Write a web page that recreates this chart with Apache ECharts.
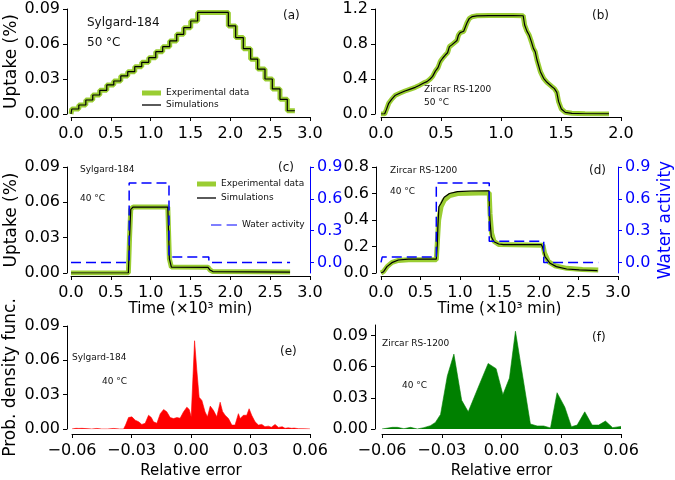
<!DOCTYPE html>
<html><head><meta charset="utf-8">
<script src="https://cdn.jsdelivr.net/npm/echarts@6/dist/echarts.min.js"></script>
<style>html,body{margin:0;padding:0;background:#fff}#c{width:675px;height:480px}</style>
</head><body><div id="c"></div>
<script>
// ---------- Data ----------
// (a) Sylgard-184, 50 °C: staircase (time ×10^3 min, uptake %)
const stepTimesA = [0, 0.01, 0.098, 0.186, 0.273, 0.361, 0.449, 0.537, 0.625, 0.712, 0.80, 0.888, 0.976, 1.064, 1.151, 1.239, 1.327, 1.415, 1.503, 1.59, 1.975, 2.067, 2.163, 2.255, 2.343, 2.435, 2.527, 2.623, 2.715, 2.81];
const uptakeA = [0, 0.0043, 0.0077, 0.0120, 0.0163, 0.0203, 0.0249, 0.0283, 0.0326, 0.0363, 0.0406, 0.0443, 0.0483, 0.0534, 0.0577, 0.0626, 0.0683, 0.0740, 0.0797, 0.0871, 0.0755, 0.0655, 0.0560, 0.0470, 0.0385, 0.0300, 0.0215, 0.0126, 0.0028, 0.0028];

// (b) Zircar RS-1200, 50 °C
const timeB = [0, 0.03, 0.045, 0.064, 0.09, 0.12, 0.16, 0.2, 0.245, 0.286, 0.313, 0.356, 0.383, 0.41, 0.43, 0.453, 0.475, 0.494, 0.515, 0.536, 0.555, 0.57, 0.59, 0.606, 0.633, 0.645, 0.66, 0.689, 0.70, 0.716, 0.735, 0.758, 0.80, 0.9, 1.0, 1.1, 1.185, 1.197, 1.215, 1.235, 1.253, 1.27, 1.285, 1.30, 1.328, 1.355, 1.383, 1.425, 1.445, 1.465, 1.48, 1.503, 1.536, 1.59, 1.7, 1.9];
const uptakeB = [0, 0, 0.05, 0.122, 0.17, 0.215, 0.24, 0.263, 0.285, 0.305, 0.322, 0.355, 0.37, 0.40, 0.43, 0.49, 0.53, 0.60, 0.64, 0.674, 0.70, 0.77, 0.79, 0.80, 0.84, 0.90, 0.93, 0.945, 0.96, 1.04, 1.09, 1.112, 1.122, 1.125, 1.125, 1.125, 1.123, 1.017, 0.95, 0.90, 0.827, 0.75, 0.712, 0.617, 0.484, 0.408, 0.362, 0.312, 0.29, 0.248, 0.141, 0.057, 0.019, 0.008, 0.003, 0.001];

// (c) Sylgard-184, 40 °C
const timeC = [0, 0.72, 0.735, 0.75, 0.78, 1.215, 1.235, 1.26, 1.72, 1.745, 1.78, 2.75];
const uptakeC = [0, 0, 0.03, 0.054, 0.056, 0.056, 0.012, 0.005, 0.0048, 0.0025, 0.0012, 0.0008];
const waTimeC = [0, 0.73, 1.23, 1.73, 2.75];
const waC = [0, 0.75, 0.05, 0, 0];

// (d) Zircar RS-1200, 40 °C
const simTimeD = [0, 0.02, 0.033, 0.075, 0.1375, 0.22, 0.346, 0.70, 0.712, 0.72, 0.733, 0.76, 0.80, 0.867, 0.97, 1.14, 1.367, 1.372, 1.379, 1.396, 1.43, 1.49, 1.55, 2.03, 2.046, 2.075, 2.14, 2.22, 2.35, 2.51, 2.74];
const simD = [0, 0, 0.01, 0.048, 0.078, 0.098, 0.104, 0.105, 0.2, 0.35, 0.5, 0.526, 0.571, 0.6, 0.614, 0.619, 0.62, 0.5, 0.4, 0.274, 0.236, 0.219, 0.214, 0.214, 0.194, 0.123, 0.073, 0.048, 0.03, 0.023, 0.018];
const expTimeD = [0, 0.03, 0.08, 0.14, 0.22, 0.35, 0.70, 0.71, 0.73, 0.76, 0.80, 0.87, 0.97, 1.37, 1.38, 1.40, 1.43, 1.49, 2.05, 2.07, 2.12, 2.20, 2.35, 2.55, 2.75];
const expD = [0, 0.01, 0.05, 0.08, 0.095, 0.1, 0.1, 0.2, 0.4, 0.5, 0.55, 0.585, 0.6, 0.605, 0.45, 0.3, 0.24, 0.215, 0.21, 0.15, 0.085, 0.055, 0.035, 0.026, 0.022];
const waTimeD = [0, 0.015, 0.70, 1.37, 2.06, 2.75];
const waD = [0, 0.05, 0.75, 0.2, 0, 0];

// (e) Sylgard-184 relative error pdf
const pdfE = [[-0.06,0],[-0.058,0.0006],[-0.0565,0.0005],[-0.055,0.0006],[-0.05,0],[-0.0475,0.0005],[-0.045,0],[-0.042,0],[-0.039,0.0005],[-0.036,0],[-0.034,0],[-0.033,0.0034],[-0.0315,0.0100],[-0.0298,0.0106],[-0.0281,0.0077],[-0.0264,0.0063],[-0.0248,0.0040],[-0.0231,0.0050],[-0.0214,0.0120],[-0.020,0.0100],[-0.0189,0.0063],[-0.0172,0.0050],[-0.0155,0.0134],[-0.0138,0.0170],[-0.0122,0.0150],[-0.0105,0.0100],[-0.0088,0.0091],[-0.0071,0.0100],[-0.0055,0.0094],[-0.0038,0.0149],[-0.0021,0.0191],[-0.0009,0.0171],[0.0001,0.0106],[0.0008,0.0120],[0.0018,0.0771],[0.0029,0.0520],[0.0041,0.0277],[0.0055,0.0249],[0.0071,0.0149],[0.0083,0.0106],[0.0097,0.0200],[0.0113,0.0163],[0.013,0.0106],[0.0147,0.0234],[0.0159,0.0154],[0.0172,0.0120],[0.0189,0.0091],[0.0206,0.0034],[0.0222,0.0034],[0.0239,0.0134],[0.0248,0.0091],[0.0264,0.0120],[0.0281,0.0120],[0.0293,0.0177],[0.0306,0.0120],[0.0323,0.0063],[0.034,0.0034],[0.0357,0.0040],[0.0373,0.0020],[0.039,0.0025],[0.0405,0.0015],[0.0415,0.0029],[0.0424,0.0040],[0.0441,0.0014],[0.046,0.0020],[0.0474,0.0006],[0.049,0.0010],[0.0508,0.0006],[0.052,0.0008],[0.0541,0.0003],[0.057,0.0002],[0.06,0]];

// (f) Zircar RS-1200 relative error pdf
const pdfF = [[-0.06,0],[-0.0548,0.0016],[-0.0523,0.0016],[-0.049,0.0003],[-0.0457,0.0016],[-0.0423,0],[-0.039,0.0013],[-0.0357,0.0032],[-0.0332,0.0063],[-0.0306,0.014],[-0.0272,0.051],[-0.0239,0.072],[-0.020,0.0276],[-0.0167,0.0165],[-0.0117,0.040],[-0.0067,0.063],[-0.0027,0.058],[0.0007,0.033],[0.004,0.049],[0.007,0.094],[0.0145,0.0048],[0.0179,0.0029],[0.0212,0.0029],[0.0246,0.001],[0.0279,0.0349],[0.0318,0.021],[0.0351,0.0022],[0.038,0.0038],[0.0418,0.0165],[0.0455,0.0038],[0.0488,0.0038],[0.0522,0.0076],[0.0558,0.0013],[0.06,0.0025]];

// tick label values for twin axes
const waTicks = [0, 0.3, 0.6, 0.9];
const pdfTicksF = [0, 0.03, 0.06, 0.09];

// ---------- Styling helpers ----------
const FONT = 'DejaVu Sans';
const GREEN = '#9acd32';
const BLUE = '#0000ff';
const zip = (a, b) => a.map((v, i) => [v, b[i]]);
const fmt = d => v => (v < -1e-9 ? '\u2212' : '') + Math.abs(v).toFixed(d);

function xAx(gi, min, max, interval, dec, offset, name, nameGap) {
  return {type:'value', gridIndex:gi, min, max, interval, offset,
    name: name || '', nameLocation:'middle', nameGap: nameGap || 0,
    nameTextStyle:{fontFamily:FONT, fontSize:15, color:'#000'},
    axisLine:{show:true, onZero:false, lineStyle:{color:'#000', width:1}},
    axisTick:{show:true, inside:false, length:4, lineStyle:{color:'#000', width:1}},
    axisLabel:{fontFamily:FONT, fontSize:16, color:'#000', margin:9, formatter:fmt(dec)},
    splitLine:{show:false}};
}
function yAx(gi, min, max, interval, dec, offset, name, nameGap, opts) {
  opts = opts || {};
  const col = opts.color || '#000';
  const ax = {type:'value', gridIndex:gi, min, max, offset, position: opts.position || 'left',
    name: name || '', nameLocation:'middle', nameGap: nameGap || 0, nameRotate:90,
    nameTextStyle:{fontFamily:FONT, fontSize:17, color:col},
    axisLine:{show:true, onZero:false, lineStyle:{color:col, width:1}},
    axisTick:{show:true, inside:false, length:4, lineStyle:{color:col, width:1}},
    axisLabel:{fontFamily:FONT, fontSize:16, color:col, margin:7, formatter:fmt(dec)},
    splitLine:{show:false}};
  if (interval) ax.interval = interval;
  if (opts.custom) {
    ax.axisLabel.customValues = opts.custom;
    ax.axisTick.customValues = opts.custom;
  }
  return ax;
}
function lineS(name, xi, yi, data, color, width, extra) {
  return Object.assign({type:'line', name, xAxisIndex:xi, yAxisIndex:yi, data,
    symbol:'none', showSymbol:false, silent:true,
    lineStyle:{color, width}, itemStyle:{color}}, extra || {});
}
function txt(x, y, text, size, color) {
  return {type:'text', x, y, silent:true, style:{text, fill: color || '#111',
    font: size + 'px "' + FONT + '"', textAlign:'left', textVerticalAlign:'middle'}};
}
// single-entry legend, icon drawn as a flat bar / dashed bar
function leg(name, left, cy, w, h, icon, color) {
  return {left, top: cy - 6, orient:'vertical', itemWidth:w, itemHeight:h, itemGap:0,
    selectedMode:false, icon,
    textStyle:{fontFamily:FONT, fontSize:9, color:'#111', lineHeight:12},
    data:[{name, icon, itemStyle:{color, borderWidth:0}}]};
}
const DASH = 'path://M0,0h10v1h-10z M15,0h10v1h-10z';

const grids = [
  {left:71, top:9, width:239, height:105},   // a
  {left:381, top:9, width:240, height:105},  // b
  {left:71, top:167, width:239, height:106}, // c
  {left:381, top:167, width:240, height:106},// d
  {left:72, top:326, width:238, height:105}, // e
  {left:382, top:325, width:239, height:106} // f
];

const option = {
  animation:false,
  grid: grids,
  xAxis: [
    xAx(0, 0, 3, 0.5, 1, 3),
    xAx(1, 0, 2, 0.5, 1, 3),
    xAx(2, 0, 3, 0.5, 1, 3, 'Time (\u00d710\u00b3 min)', 26),
    xAx(3, 0, 3, 0.5, 1, 3, 'Time (\u00d710\u00b3 min)', 26),
    xAx(4, -0.06, 0.06, 0.03, 2, 5, 'Relative error', 30),
    xAx(5, -0.06, 0.06, 0.03, 2, 5, 'Relative error', 30)
  ],
  yAxis: [
    yAx(0, 0, 0.09, 0.03, 2, 4, 'Uptake (%)', 47),
    yAx(1, 0, 1.2, 0.4, 1, 6),
    yAx(2, 0, 0.09, 0.03, 2, 4, 'Uptake (%)', 47),
    yAx(2, -0.1, 0.9, null, 1, 0, '', 0, {position:'right', color:BLUE, custom:waTicks}),
    yAx(3, 0, 0.8, 0.2, 1, 5),
    yAx(3, -0.1, 0.9, null, 1, 0, 'Water activity', 39, {position:'right', color:BLUE, custom:waTicks}),
    yAx(4, 0, 0.09, 0.03, 2, 5, 'Prob. density func.', 48),
    yAx(5, 0, 0.1, null, 2, 7, '', 0, {custom:pdfTicksF})
  ],
  legend: [
    leg('Experimental data', 137, 88, 19, 5, 'rect', GREEN),
    leg('Simulations', 137, 100, 19, 1.3, 'rect', '#000'),
    leg('Experimental data', 192, 179, 19, 5, 'rect', GREEN),
    leg('Simulations', 192, 193, 19, 1.3, 'rect', '#000'),
    leg('Water activity', 206, 220, 26, 1.6, DASH, BLUE)
  ],
  series: [
    lineS('Experimental data', 0, 0, zip(stepTimesA, uptakeA), GREEN, 5, {step:'end'}),
    lineS('Simulations', 0, 0, zip(stepTimesA, uptakeA), '#000', 1.2, {step:'end'}),
    lineS('Experimental data', 1, 1, zip(timeB, uptakeB), GREEN, 5),
    lineS('Simulations', 1, 1, zip(timeB, uptakeB), '#000', 1.2),
    lineS('Experimental data', 2, 2, zip(timeC, uptakeC), GREEN, 5),
    lineS('Simulations', 2, 2, zip(timeC, uptakeC), '#000', 1.2),
    lineS('Water activity', 2, 3, zip(waTimeC, waC), BLUE, 1.5, {step:'end', lineStyle:{color:BLUE, width:1.5, type:[10,5]}}),
    lineS('Experimental data', 3, 4, zip(expTimeD, expD), GREEN, 5),
    lineS('Simulations', 3, 4, zip(simTimeD, simD), '#000', 1.2),
    lineS('Water activity', 3, 5, zip(waTimeD, waD), BLUE, 1.5, {step:'end', lineStyle:{color:BLUE, width:1.5, type:[10,5]}}),
    lineS('pdfE', 4, 6, pdfE, '#ff0000', 0.6, {areaStyle:{color:'#ff0000', opacity:1}}),
    lineS('pdfF', 5, 7, pdfF, '#008000', 0.6, {areaStyle:{color:'#008000', opacity:1}})
  ],
  graphic: [
    txt(87, 23, 'Sylgard-184', 12), txt(87, 43, '50 \u00b0C', 12), txt(283, 16, '(a)', 12),
    txt(592, 16, '(b)', 12), txt(424, 90, 'Zircar RS-1200', 9), txt(424, 103, '50 \u00b0C', 9),
    txt(80, 170, 'Sylgard-184', 9), txt(80, 199, '40 \u00b0C', 9), txt(278, 168, '(c)', 12),
    txt(390, 171, 'Zircar RS-1200', 9), txt(390, 192, '40 \u00b0C', 9), txt(589, 171, '(d)', 12),
    txt(72, 358, 'Sylgard-184', 9), txt(102, 382, '40 \u00b0C', 9), txt(280, 352, '(e)', 12),
    txt(382, 344, 'Zircar RS-1200', 9), txt(402, 386, '40 \u00b0C', 9), txt(592, 338, '(f)', 12)
  ]
};
const chart = echarts.init(document.getElementById('c'), null, {renderer:'canvas'});
chart.setOption(option);
</script>
</body></html>
